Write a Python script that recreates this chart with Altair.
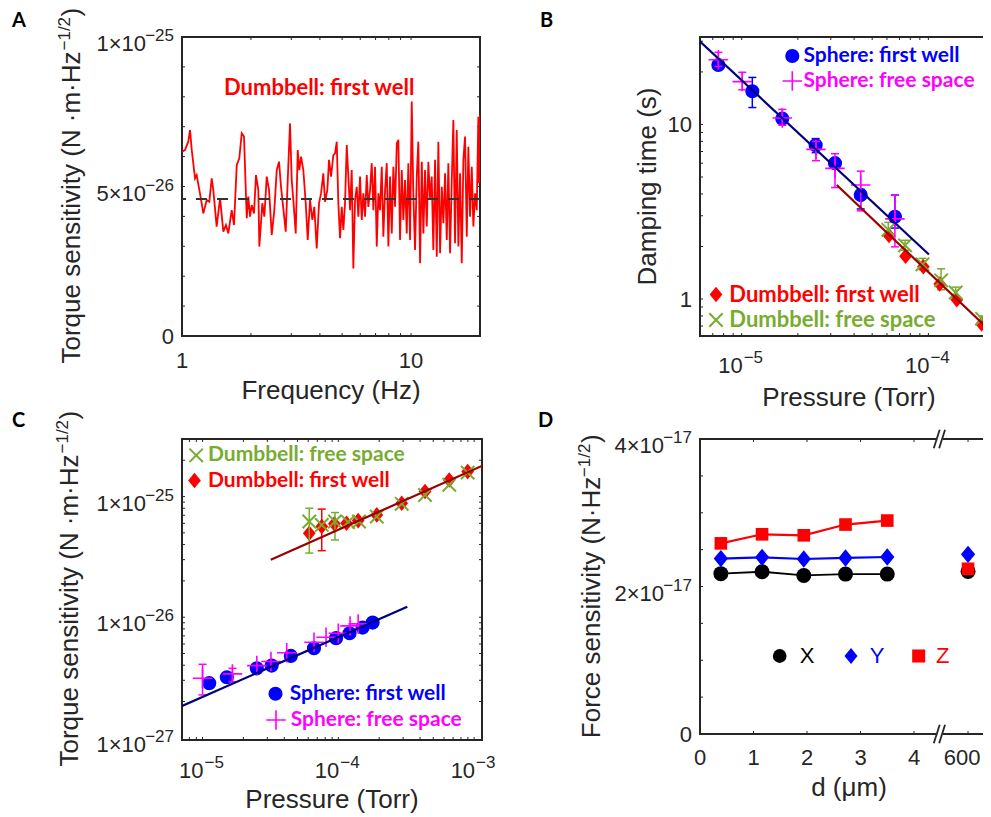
import altair as alt
import pandas as pd

FONT = "Liberation Sans"
BOLD = "Lato"
AX = "#262626"
BLUE, MAG, RED, GRN = "#0000FF", "#FF00FF", "#FF0000", "#77AC30"
NAVY, DRED = "#00007F", "#9A0000"
PLUS = "M-1,0H1M0,-1V1"
CROSS = "M-1,-1L1,1M-1,1L1,-1"
DIAM = "M0,-1.1L0.9,0L0,1.1L-0.9,0Z"
TL = 3

# ---------------- Panel A : torque sensitivity spectrum (units 1e-26) ----------------
a_freq = [1.0, 1.03, 1.065, 1.084, 1.103, 1.140, 1.159, 1.198, 1.239, 1.282, 1.316, 1.348, 1.370, 1.417,
          1.466, 1.515, 1.556, 1.593, 1.648, 1.687, 1.734, 1.779, 1.823, 1.865, 1.917, 1.948, 1.981, 2.015,
          2.062, 2.104, 2.154, 2.176,
          2.242, 2.288, 2.344, 2.399, 2.465, 2.530, 2.592, 2.652, 2.706, 2.769, 2.837, 2.895, 2.962, 3.013,
          3.062, 3.137, 3.201, 3.253, 3.309, 3.386, 3.469, 3.539, 3.622, 3.707, 3.782, 3.874, 3.965, 4.046,
          4.140, 4.211, 4.310, 4.385, 4.474, 4.579,
          4.658, 4.738, 4.815, 4.898, 4.982, 5.063, 5.150, 5.239, 5.324, 5.416, 5.508, 5.598, 5.695, 5.793,
          5.887, 5.988, 6.092, 6.190, 6.297, 6.406, 6.510, 6.622, 6.736, 6.846, 6.964, 7.084, 7.199, 7.323,
          7.450, 7.569, 7.701, 7.833, 7.961, 8.097, 8.237, 8.371, 8.516, 8.664, 8.803, 8.954, 9.108, 9.256,
          9.415, 9.577, 9.732,
          9.900, 10.07, 10.23, 10.41, 10.59, 10.76, 10.95, 11.14, 11.32, 11.51, 11.71, 11.90, 12.11, 12.31,
          12.51, 12.73, 12.95, 13.16, 13.39, 13.62, 13.84, 14.08, 14.32, 14.55, 14.80, 15.06, 15.30, 15.56,
          15.83, 16.09, 16.37, 16.65, 16.92, 17.21, 17.51, 17.79, 18.10, 18.41, 18.71, 19.03, 19.36, 19.67,
          19.81, 20.0]
a_sens = [6.16, 6.22, 6.50, 6.89, 6.22, 5.27, 5.38, 4.77, 4.10, 4.55, 4.49, 5.27, 4.88, 3.66,
          4.61, 3.49, 3.71, 3.43, 4.21, 3.71, 5.72, 5.94, 6.78, 6.67, 3.94, 4.66, 3.99, 4.38,
          4.10, 5.38, 4.88, 2.99,
          4.44, 3.99, 5.33, 4.88, 3.38, 4.21, 5.55, 5.83, 4.99, 4.27, 3.49, 5.22, 7.11, 5.22,
          4.55, 3.43, 6.22, 5.55, 6.00, 5.55, 4.44, 3.21, 4.55, 3.88, 4.32, 2.93, 4.44, 4.77,
          5.44, 4.49, 4.88, 5.89, 5.33, 6.05,
          6.11, 6.50, 4.44, 3.27, 4.32, 3.55, 4.44, 6.39, 5.33, 4.21, 5.55, 2.26, 4.55, 4.99,
          3.99, 5.33, 3.88, 4.77, 3.99, 5.38, 4.32, 4.88, 5.78, 4.21, 5.66, 2.99, 4.77, 4.21,
          5.66, 3.32, 4.88, 5.78, 2.99, 5.33, 3.43, 5.66, 4.32, 6.44, 6.56, 3.21, 5.55, 3.88,
          5.22, 3.43, 5.78,
          3.21, 7.84, 4.77, 2.88, 5.33, 6.50, 2.43, 5.83, 3.43, 5.55, 3.66, 5.83, 4.55, 5.33,
          2.88, 5.89, 2.65, 6.50, 2.77, 4.99, 3.77, 5.44, 3.21, 5.78, 2.77, 5.22, 7.22, 3.10,
          6.89, 2.99, 5.44, 2.43, 5.89, 6.67, 3.32, 6.33, 3.99, 5.66, 3.66, 4.77, 4.21, 7.33,
          5.11, 7.40]
a_mean = 4.58

# ---------------- Panel B : damping time ----------------
b_sfw_p = [7.5e-6, 1.14e-5, 1.65e-5, 2.49e-5, 3.16e-5, 4.34e-5, 6.62e-5]
b_sfw_t = [21.9, 15.5, 10.8, 7.6, 6.0, 3.94, 2.96]
b_sfw_lo = [21.2, 12.5, 10.4, 6.9, 5.7, 3.28, 2.55]
b_sfw_hi = [22.6, 18.6, 11.2, 8.3, 6.3, 4.25, 3.94]
b_sfs_p = [7.5e-6, 1.007e-5, 1.65e-5, 2.5e-5, 3.16e-5, 4.34e-5, 6.62e-5]
b_sfs_t = [23.5, 17.6, 10.9, 7.2, 5.6, 4.5, 2.88]
b_sfs_lo = [21.5, 15.8, 9.9, 6.2, 4.35, 3.2, 1.99]
b_sfs_hi = [25.9, 19.9, 12.2, 8.0, 6.8, 5.4, 3.94]
b_dfw_p = [6.15e-5, 7.55e-5, 9.4e-5, 1.15e-4, 1.42e-4, 1.93e-4]
b_dfw_t = [2.31, 1.76, 1.53, 1.22, 0.99, 0.72]
b_dfs_p = [6.1e-5, 7.5e-5, 9.3e-5, 1.17e-4, 1.40e-4, 1.94e-4]
b_dfs_t = [2.49, 2.03, 1.58, 1.28, 1.09, 0.77]
b_dfs_lo = [2.27, 1.90, 1.47, 1.13, 1.02, 0.74]
b_dfs_hi = [2.75, 2.17, 1.71, 1.49, 1.17, 0.80]
b_fit_s_p = [5.9e-6, 1.007e-4]
b_fit_s_t = [30.3, 1.80]
b_fit_d_p = [3.23e-5, 2.4e-4]
b_fit_d_t = [4.5, 0.586]

# ---------------- Panel C : torque sensitivity vs pressure ----------------
c_dfw_p = [6.11e-5, 7.55e-5, 9.35e-5, 1.15e-4, 1.40e-4, 1.92e-4, 2.93e-4, 4.35e-4, 6.56e-4, 8.96e-4]
c_dfw_t = [4.97e-26, 5.64e-26, 5.94e-26, 6.01e-26, 6.32e-26, 7.05e-26, 8.81e-26, 1.10e-25, 1.37e-25, 1.61e-25]
c_dfw_err_p = [7.55e-5]
c_dfw_err_lo = [3.56e-26]
c_dfw_err_hi = [7.87e-26]
c_dfs_p = [6.11e-5, 7.55e-5, 9.45e-5, 1.18e-4, 1.42e-4, 1.92e-4, 2.93e-4, 4.35e-4, 6.56e-4, 8.96e-4]
c_dfs_t = [6.21e-26, 5.82e-26, 6.21e-26, 6.14e-26, 6.21e-26, 6.83e-26, 8.7e-26, 1.03e-25, 1.25e-25, 1.58e-25]
c_dfs_err_p = [6.11e-5, 9.45e-5]
c_dfs_err_lo = [3.40e-26, 4.37e-26]
c_dfs_err_hi = [8.01e-26, 7.37e-26]
c_sfw_p = [1.12e-5, 1.51e-5, 2.51e-5, 3.23e-5, 4.47e-5, 6.62e-5, 9.62e-5, 1.21e-4, 1.51e-4, 1.79e-4]
c_sfw_t = [2.84e-27, 3.18e-27, 3.77e-27, 3.97e-27, 4.78e-27, 5.53e-27, 6.70e-27, 7.37e-27, 8.2e-27, 9.02e-27]
c_sfs_p = [1.0e-5, 1.66e-5, 2.51e-5, 3.19e-5, 4.17e-5, 6.62e-5, 8.12e-5, 1.0e-4, 1.22e-4, 1.40e-4]
c_sfs_t = [3.12e-27, 3.39e-27, 3.97e-27, 4.29e-27, 5.08e-27, 6.2e-27, 6.83e-27, 7.37e-27, 8.47e-27, 8.8e-27]
c_sfs_err_p = [1.0e-5, 1.66e-5]
c_sfs_err_lo = [2.27e-27, 2.92e-27]
c_sfs_err_hi = [4.07e-27, 3.77e-27]
c_fit_s_p = [7.0e-6, 3.22e-4]
c_fit_s_t = [1.83e-27, 1.22e-26]
c_fit_d_p = [3.18e-5, 1.2e-3]
c_fit_d_t = [2.99e-26, 1.84e-25]

# ---------------- Panel D : force sensitivity ----------------
d_dist = [0.39, 1.16, 1.94, 2.72, 3.5, 600]
d_fx = [2.174e-17, 2.20e-17, 2.15e-17, 2.168e-17, 2.168e-17, 2.205e-17]
d_fy = [2.378e-17, 2.395e-17, 2.373e-17, 2.387e-17, 2.40e-17, 2.436e-17]
d_fz = [2.585e-17, 2.708e-17, 2.694e-17, 2.84e-17, 2.894e-17, 2.24e-17]
d_tick_labels = ["0", "1", "2", "3", "4"]
d_tick_vals = [0, 1, 2, 3, 4]
d_far_label = "600"
d_far_val = 600


def d_axis(d):
    # broken axis: 0-4 um linear, then the 600 um point after the break
    return d if d < 100 else 5.01 + (d - 600) / 100.0


# ---------------- helpers ----------------
def X(f, sc):
    return alt.X(f, scale=sc, axis=None)


def Y(f, sc):
    return alt.Y(f, scale=sc, axis=None)


def ticks(xs, ys, sx, sy, w, h, right=True):
    out = []
    dx = pd.DataFrame({"v": xs})
    dy = pd.DataFrame({"v": ys})
    out.append(alt.Chart(dx).mark_rule(color=AX, strokeWidth=1).encode(x=X("v:Q", sx), y=alt.value(h), y2=alt.value(h - TL)))
    out.append(alt.Chart(dx).mark_rule(color=AX, strokeWidth=1).encode(x=X("v:Q", sx), y=alt.value(0), y2=alt.value(TL)))
    out.append(alt.Chart(dy).mark_rule(color=AX, strokeWidth=1).encode(y=Y("v:Q", sy), x=alt.value(0), x2=alt.value(TL)))
    if right:
        out.append(alt.Chart(dy).mark_rule(color=AX, strokeWidth=1).encode(y=Y("v:Q", sy), x=alt.value(w), x2=alt.value(w - TL)))
    return out


def xlab(vals, mains, sups, sx, h, bp=32, bs=37, shift=0):
    out = []
    df = pd.DataFrame({"v": vals, "m": mains, "s": sups})
    p = df[df["s"] == ""]
    s = df[df["s"] != ""]
    if len(p):
        out.append(alt.Chart(p).mark_text(font=FONT, fontSize=22, color=AX, align="center", baseline="alphabetic", dx=shift)
                   .encode(x=X("v:Q", sx), y=alt.value(h + bp), text="m:N"))
    if len(s):
        out.append(alt.Chart(s).mark_text(font=FONT, fontSize=22, color=AX, align="right", baseline="alphabetic", dx=1)
                   .encode(x=X("v:Q", sx), y=alt.value(h + bs), text="m:N"))
        out.append(alt.Chart(s).mark_text(font=FONT, fontSize=17, color=AX, align="left", baseline="alphabetic", dx=2)
                   .encode(x=X("v:Q", sx), y=alt.value(h + bs - 10), text="s:N"))
    return out


def ylab(vals, mains, sups, sy):
    out = []
    df = pd.DataFrame({"v": vals, "m": mains, "s": sups})
    p = df[df["s"] == ""]
    s = df[df["s"] != ""]
    if len(p):
        out.append(alt.Chart(p).mark_text(font=FONT, fontSize=22, color=AX, align="right", baseline="alphabetic", dy=8)
                   .encode(x=alt.value(-8), y=Y("v:Q", sy), text="m:N"))
    if len(s):
        out.append(alt.Chart(s).mark_text(font=FONT, fontSize=22, color=AX, align="right", baseline="alphabetic", dy=14)
                   .encode(x=alt.value(-36), y=Y("v:Q", sy), text="m:N"))
        out.append(alt.Chart(s).mark_text(font=FONT, fontSize=17, color=AX, align="right", baseline="alphabetic", dy=4)
                   .encode(x=alt.value(-8), y=Y("v:Q", sy), text="s:N"))
    return out


def txt(t, x, y, size=22, color=AX, align="center", angle=0, font=FONT, weight="normal"):
    kw = dict(font=font, fontSize=size, color=color, align=align, baseline="alphabetic", fontWeight=weight)
    if angle:
        kw["angle"] = angle
    return alt.Chart(pd.DataFrame({"t": [t]})).mark_text(**kw).encode(x=alt.value(x), y=alt.value(y), text="t:N")


def ytitle_sup(main, sup, tail, xb, ystart, main_w, sup_w):
    j = ystart - main_w
    return [txt(main, xb, ystart, 26, angle=270, align="left"),
            txt(sup, xb - 10, j - 1, 17, angle=270, align="left"),
            txt(tail, xb, j - 1 - sup_w - 0.5, 26, angle=270, align="left")]


def fitline(p, t, color, sx, sy):
    return alt.Chart(pd.DataFrame({"p": p, "t": t})).mark_line(color=color, strokeWidth=2.2, clip=True).encode(
        x=X("p:Q", sx), y=Y("t:Q", sy))


def errbars(p, lo, hi, color, sx, sy, cap=8, sw=1.5):
    df = pd.DataFrame({"p": p, "lo": lo, "hi": hi})
    base = alt.Chart(df)
    return [
        base.mark_rule(color=color, strokeWidth=sw).encode(x=X("p:Q", sx), y=Y("lo:Q", sy), y2="hi:Q"),
        base.mark_tick(color=color, thickness=sw, size=cap, orient="horizontal", opacity=1).encode(x=X("p:Q", sx), y=Y("lo:Q", sy)),
        base.mark_tick(color=color, thickness=sw, size=cap, orient="horizontal", opacity=1).encode(x=X("p:Q", sx), y=Y("hi:Q", sy)),
    ]


def scatter(p, t, name, color, shape, filled, size, sw, sx, sy, lx, ly, loff,
            lfont=BOLD, lsize=22, lweight="bold", lsym=None):
    df = pd.DataFrame({"p": p, "t": t, "series": name})
    legend = alt.Legend(title=None, orient="none", legendX=lx, legendY=ly, labelFont=lfont,
                        labelFontSize=lsize, labelFontWeight=lweight, labelColor=color,
                        symbolType=shape, symbolSize=lsym or size, symbolStrokeWidth=sw,
                        symbolOpacity=1, labelOffset=loff, padding=0, labelLimit=400)
    return alt.Chart(df).mark_point(shape=shape, filled=filled, size=size, strokeWidth=sw, opacity=1).encode(
        x=X("p:Q", sx), y=Y("t:Q", sy),
        color=alt.Color("series:N", scale=alt.Scale(domain=[name], range=[color]), legend=legend))


def letter(ch, x, y):
    return txt(ch, x, y, 20, color="black", align="left", font=BOLD, weight="bold")


# ================= Panel A =================
wA, hA = 298, 299
sxA = alt.Scale(type="log", domain=[1, 20], nice=False)
syA = alt.Scale(type="linear", domain=[0, 1e-25], nice=False, zero=False)
dfA = pd.DataFrame({"f": a_freq, "s": [v * 1e-26 for v in a_sens]})
A_layers = []
A_layers += ticks([2, 3, 4, 5, 6, 7, 8, 9, 10], [k * 1e-26 for k in range(1, 10)], sxA, syA, wA, hA)
A_layers.append(alt.Chart(dfA).mark_line(color=RED, strokeWidth=1.8, clip=True).encode(x=X("f:Q", sxA), y=Y("s:Q", syA)))
A_layers.append(alt.Chart(pd.DataFrame({"s": [a_mean * 1e-26]})).mark_rule(color="#333333", strokeWidth=2, strokeDash=[11, 10])
                .encode(y=Y("s:Q", syA)))
A_layers += xlab([1, 10], ["1", "10"], ["", ""], sxA, hA, bp=32)
A_layers += ylab([0, 5e-26, 1e-25], ["0", "5×10", "1×10"], ["", "−26", "−25"], syA)
A_layers.append(txt("Frequency (Hz)", wA / 2, hA + 62.5, 26))
A_layers += ytitle_sup("Torque sensitivity (N ·m·Hz", "−1/2", ")", -102, hA / 2 + 177, 312, 33.6)
A_layers.append(txt("Dumbbell: first well", 42, 58, 22, RED, align="left", font=BOLD, weight="bold"))
A_layers.append(letter("A", -170, -10))
A = alt.layer(*A_layers).properties(width=wA, height=hA)

# ================= Panel B =================
wB, hB = 298, 299
sxB = alt.Scale(type="log", domain=[5.98e-6, 2.36e-4], nice=False)
syB = alt.Scale(type="log", domain=[0.614, 31.7], nice=False)
bx_t = [6e-6, 7e-6, 8e-6, 9e-6] + [k * 1e-5 for k in range(1, 10)] + [1e-4, 2e-4]
by_t = [0.7, 0.8, 0.9] + list(range(1, 10)) + [10, 20, 30]
B_layers = []
B_layers += ticks(bx_t, by_t, sxB, syB, wB, hB, right=False)
B_layers += errbars(b_sfw_p, b_sfw_lo, b_sfw_hi, BLUE, sxB, syB)
B_layers += errbars(b_dfs_p, b_dfs_lo, b_dfs_hi, GRN, sxB, syB)
B_layers.append(scatter(b_dfw_p, b_dfw_t, "Dumbbell: first well", RED, DIAM, True, 200, 1, sxB, syB, 5, 246.5, 2.3))
B_layers.append(scatter(b_dfs_p, b_dfs_t, "Dumbbell: free space", GRN, CROSS, False, 180, 2, sxB, syB, 5, 272, 2.3))
B_layers.append(scatter(b_sfw_p, b_sfw_t, "Sphere: first well", BLUE, "circle", True, 200, 1, sxB, syB, 81.8, 8.5, 0.7,
                        lsize=21))
B_layers += errbars(b_sfs_p, b_sfs_lo, b_sfs_hi, MAG, sxB, syB)
B_layers.append(scatter(b_sfs_p, b_sfs_t, "Sphere: free space", MAG, PLUS, False, 380, 1.6, sxB, syB, 81.3, 33, 0.2,
                        lsize=21))
B_layers.append(fitline(b_fit_s_p, b_fit_s_t, NAVY, sxB, syB))
B_layers.append(fitline(b_fit_d_p, b_fit_d_t, DRED, sxB, syB))
B_layers += xlab([1e-5, 1e-4], ["10", "10"], ["−5", "−4"], sxB, hB, bs=37)
B_layers += ylab([1, 10], ["1", "10"], ["", ""], syB)
B_layers.append(txt("Pressure (Torr)", wB / 2, hB + 70, 26))
B_layers.append(txt("Damping time (s)", -44, hB / 2, 26, angle=270, align="center"))
B_layers.append(letter("B", -160, -10))
B = (alt.layer(*B_layers).resolve_scale(color="independent").resolve_legend(color="independent")
     .properties(width=wB, height=hB))

# ================= Panel C =================
wC, hC = 300, 301
sxC = alt.Scale(type="log", domain=[7.06e-6, 1.143e-3], nice=False)
syC = alt.Scale(type="log", domain=[9.6e-28, 3.0e-25], nice=False)
cx_t = [8e-6, 9e-6] + [k * 1e-5 for k in range(1, 10)] + [k * 1e-4 for k in range(1, 10)] + [1e-3]
cy_t = [k * 1e-27 for k in range(2, 10)] + [k * 1e-26 for k in range(1, 10)] + [1e-25, 2e-25, 3e-25]
C_layers = []
C_layers += ticks(cx_t, cy_t, sxC, syC, wC, hC)
C_layers += errbars(c_dfw_err_p, c_dfw_err_lo, c_dfw_err_hi, RED, sxC, syC)
C_layers.append(scatter(c_dfw_p, c_dfw_t, "Dumbbell: first well", RED, DIAM, True, 200, 1, sxC, syC, 2, 31, 3,
                        lsize=21))
C_layers += errbars(c_dfs_err_p, c_dfs_err_lo, c_dfs_err_hi, GRN, sxC, syC)
C_layers.append(scatter(c_dfs_p, c_dfs_t, "Dumbbell: free space", GRN, CROSS, False, 180, 2, sxC, syC, 3.7, 5.8, 1.3,
                        lsize=21))
C_layers.append(scatter(c_sfw_p, c_sfw_t, "Sphere: first well", BLUE, "circle", True, 200, 1, sxC, syC, 83, 244.2, 3.7,
                        lsize=21))
C_layers += errbars(c_sfs_err_p, c_sfs_err_lo, c_sfs_err_hi, MAG, sxC, syC)
C_layers.append(scatter(c_sfs_p, c_sfs_t, "Sphere: free space", MAG, PLUS, False, 380, 1.6, sxC, syC, 83, 270, 3.7,
                        lsize=21))
C_layers.append(fitline(c_fit_s_p, c_fit_s_t, NAVY, sxC, syC))
C_layers.append(fitline(c_fit_d_p, c_fit_d_t, DRED, sxC, syC))
C_layers += xlab([1e-5, 1e-4, 1e-3], ["10", "10", "10"], ["−5", "−4", "−3"], sxC, hC, bs=38)
C_layers += ylab([1e-27, 1e-26, 1e-25], ["1×10", "1×10", "1×10"], ["−27", "−26", "−25"], syC)
C_layers.append(txt("Pressure (Torr)", wC / 2, hC + 68, 26))
C_layers += ytitle_sup("Torque sensitivity (N ·m·Hz", "−1/2", ")", -104, hC / 2 + 177, 312, 33.6)
C_layers.append(letter("C", -170, -12))
C = (alt.layer(*C_layers).resolve_scale(color="independent").resolve_legend(color="independent")
     .properties(width=wC, height=hC))

# ================= Panel D =================
wD, hD = 298, 295
sxD = alt.Scale(type="linear", domain=[0, 5.57], nice=False, zero=False)
syD = alt.Scale(type="linear", domain=[0, 4e-17], nice=False, zero=False)
d_pos = [d_axis(v) for v in d_dist]
dfD = pd.DataFrame({"x": d_pos, "fx": d_fx, "fy": d_fy, "fz": d_fz})
dfD5 = dfD[dfD["x"] < 4.5]
frame = pd.DataFrame({
    "x1": [0, 0, 4.56, 0, 4.56],
    "x2": [0, 4.40, 5.7, 4.40, 5.7],
    "y1": [0, 4e-17, 4e-17, 0, 0],
    "y2": [4e-17, 4e-17, 4e-17, 0, 0],
})
slashes = pd.DataFrame({
    "x1": [4.37, 4.47, 4.37, 4.47],
    "x2": [4.48, 4.58, 4.48, 4.58],
    "y1": [-0.125e-17, -0.125e-17, 3.875e-17, 3.875e-17],
    "y2": [0.125e-17, 0.125e-17, 4.125e-17, 4.125e-17],
})
D_layers = []
D_layers.append(alt.Chart(frame).mark_rule(color=AX, strokeWidth=2, strokeCap="square").encode(
    x=X("x1:Q", sxD), x2="x2:Q", y=Y("y1:Q", syD), y2="y2:Q"))
D_layers.append(alt.Chart(slashes).mark_rule(color=AX, strokeWidth=1.8).encode(
    x=X("x1:Q", sxD), x2="x2:Q", y=Y("y1:Q", syD), y2="y2:Q"))
D_layers += ticks([1, 2, 3, 4, d_axis(600)], [k * 0.5e-17 for k in range(1, 8)], sxD, syD, wD, hD, right=False)
D_layers.append(alt.Chart(dfD5).mark_line(color="black", strokeWidth=1.8).encode(x=X("x:Q", sxD), y=Y("fx:Q", syD)))
D_layers.append(alt.Chart(dfD5).mark_line(color=BLUE, strokeWidth=2.2).encode(x=X("x:Q", sxD), y=Y("fy:Q", syD)))
D_layers.append(alt.Chart(dfD5).mark_line(color=RED, strokeWidth=2.2).encode(x=X("x:Q", sxD), y=Y("fz:Q", syD)))
D_layers.append(scatter(d_pos, d_fx, "X", "black", "circle", True, 225, 1, sxD, syD, 68.7, 206, 9,
                        lfont=FONT, lsize=22, lweight="normal", lsym=190))
D_layers.append(scatter(d_pos, d_fy, "Y", BLUE, DIAM, True, 250, 1, sxD, syD, 140, 206, 7.7,
                        lfont=FONT, lsize=22, lweight="normal", lsym=210))
D_layers.append(scatter(d_pos, d_fz, "Z", RED, "square", True, 160, 1, sxD, syD, 207.7, 206, 6.3,
                        lfont=FONT, lsize=22, lweight="normal", lsym=170))
D_layers += xlab([d_axis(v) for v in d_tick_vals], d_tick_labels, [""] * 5, sxD, hD, bp=31)
D_layers += xlab([d_axis(d_far_val)], [d_far_label], [""], sxD, hD, bp=31, shift=-6)
D_layers += ylab([0, 2e-17, 4e-17], ["0", "2×10", "4×10"], ["", "−17", "−17"], syD)
D_layers.append(txt("d (μm)", wD / 2, hD + 62, 26))
D_layers += ytitle_sup("Force sensitivity (N·Hz", "−1/2", ")", -100, hD / 2 + 151.7, 260, 33.6)
D_layers.append(letter("D", -162, -12))
D = (alt.layer(*D_layers).resolve_scale(color="independent").resolve_legend(color="independent")
     .properties(width=wD, height=hD, view=alt.ViewBackground(stroke="transparent")))

chart = (alt.concat(A, B, C, D, columns=2, spacing={"row": 103, "column": 218}, bounds="flush", align="each")
         .resolve_scale(x="independent", y="independent", color="independent")
         .resolve_legend(color="independent")
         .properties(autosize=alt.AutoSizeParams(type="none"),
                     padding={"left": 174, "top": 29, "right": 801, "bottom": 776})
         .configure_view(stroke=AX, strokeWidth=2))

chart.save("out.html", embed_options={"renderer": "svg", "actions": False})
